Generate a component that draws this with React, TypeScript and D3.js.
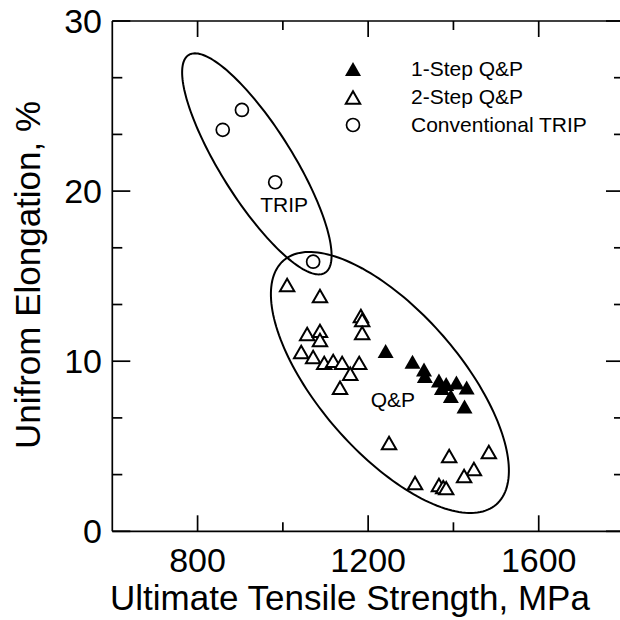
import React, { useEffect, useRef } from 'react'
import * as d3 from 'd3'

// 1-Step Q&P (filled triangles)
const oneStepUTS = [1241, 1304, 1331, 1333, 1366, 1373, 1383, 1407, 1431, 1394, 1426]
const oneStepUE = [10.6, 9.97, 9.51, 9.13, 8.87, 8.43, 8.66, 8.75, 8.45, 7.95, 7.33]

// 2-Step Q&P (open triangles)
const twoStepUTS = [
  1010, 1087, 1183, 1186, 1186, 1057, 1087, 1087, 1043, 1071, 1097, 1118, 1139,
  1179, 1158, 1134, 1249, 1390, 1483, 1448, 1425, 1310, 1366, 1376, 1383
]
const twoStepUE = [
  14.48, 13.83, 12.66, 12.42, 11.66, 11.6, 11.78, 11.25, 10.54, 10.25, 9.9, 10.02,
  9.9, 9.9, 9.26, 8.44, 5.19, 4.43, 4.66, 3.66, 3.25, 2.84, 2.72, 2.6, 2.54
]

// Conventional TRIP (open circles)
const tripUTS = [904, 859, 982, 1071]
const tripUE = [24.77, 23.6, 20.52, 15.85]

const xMajor = [800, 1200, 1600]
const xMinor = [1000, 1400]
const yMajor = [0, 10, 20, 30]
const yMinor = [3.333, 6.667, 13.333, 16.667, 23.333, 26.667]

const legendLabels = ['1-Step Q&P', '2-Step Q&P', 'Conventional TRIP']

const FONT = '"Liberation Sans", Arial, Helvetica, sans-serif'

const App = () => {
  const ref = useRef<SVGSVGElement | null>(null)

  useEffect(() => {
    const svg = d3.select(ref.current)
    svg.selectAll('*').remove()

    const x = d3.scaleLinear().domain([600, 1800]).range([112.3, 624])
    const y = d3.scaleLinear().domain([0, 30]).range([531.3, 21])
    const [x0, x1] = x.range()
    const [y0, y1] = y.range()

    // frame
    const frame = svg.append('g').attr('stroke', '#000').attr('stroke-width', 1.7)
    frame.append('line').attr('x1', x0).attr('x2', x0).attr('y1', y0).attr('y2', y1)
    frame.append('line').attr('x1', x0).attr('x2', x1).attr('y1', y0).attr('y2', y0)
    frame.append('line').attr('x1', x0).attr('x2', x1).attr('y1', y1).attr('y2', y1)
    frame.append('line').attr('x1', x1).attr('x2', x1).attr('y1', y0).attr('y2', y1)

    // x ticks (inward, bottom and top)
    const xt = (vals: number[], len: number) => {
      vals.forEach((v) => {
        frame.append('line').attr('x1', x(v)).attr('x2', x(v)).attr('y1', y0).attr('y2', y0 - len)
        frame.append('line').attr('x1', x(v)).attr('x2', x(v)).attr('y1', y1).attr('y2', y1 + len)
      })
    }
    xt(xMajor, 16)
    xt(xMinor, 9)
    // y ticks (inward, left and right)
    const yt = (vals: number[], len: number) => {
      vals.forEach((v) => {
        frame.append('line').attr('x1', x0).attr('x2', x0 + len).attr('y1', y(v)).attr('y2', y(v))
        frame.append('line').attr('x1', x1).attr('x2', x1 - len).attr('y1', y(v)).attr('y2', y(v))
      })
    }
    yt(yMajor, 18)
    yt(yMinor, 10)

    // tick labels
    svg
      .append('g')
      .selectAll('text')
      .data(xMajor)
      .enter()
      .append('text')
      .attr('x', (d) => x(d))
      .attr('y', 571.5)
      .attr('text-anchor', 'middle')
      .style('font-family', FONT)
      .style('font-size', '34px')
      .text((d) => d)
    svg
      .append('g')
      .selectAll('text')
      .data(yMajor)
      .enter()
      .append('text')
      .attr('x', 102)
      .attr('y', (d) => y(d) + 12)
      .attr('text-anchor', 'end')
      .style('font-family', FONT)
      .style('font-size', '34px')
      .text((d) => d)

    // axis titles
    svg
      .append('text')
      .attr('x', 350)
      .attr('y', 610)
      .attr('text-anchor', 'middle')
      .style('font-family', FONT)
      .style('font-size', '35px')
      .text('Ultimate Tensile Strength, MPa')
    svg
      .append('text')
      .attr('transform', 'translate(40,275) rotate(-90)')
      .attr('text-anchor', 'middle')
      .style('font-family', FONT)
      .style('font-size', '35px')
      .text('Unifrom Elongation, %')

    // ellipses in data units: centre + two conjugate semi-axes
    const ellipse = (cx: number, cy: number, ax: number, ay: number, bx: number, by: number) => {
      const pts = d3.range(0, 2 * Math.PI, Math.PI / 90).map((t) => [
        x(cx + ax * Math.cos(t) + bx * Math.sin(t)),
        y(cy + ay * Math.cos(t) + by * Math.sin(t))
      ])
      return d3.line().curve(d3.curveLinearClosed)(pts as [number, number][])
    }
    svg
      .append('path')
      .attr('d', ellipse(939, 21.6, 160, -6.4, 71.5, 1.13))
      .attr('fill', 'none')
      .attr('stroke', '#000')
      .attr('stroke-width', 2)
    svg
      .append('path')
      .attr('d', ellipse(1251, 8.75, 249.5, -7.17, 125, 2.73))
      .attr('fill', 'none')
      .attr('stroke', '#000')
      .attr('stroke-width', 2)

    // region labels
    svg
      .append('text')
      .attr('x', x(1003))
      .attr('y', y(18.75))
      .attr('text-anchor', 'middle')
      .style('font-family', FONT)
      .style('font-size', '21px')
      .text('TRIP')
    svg
      .append('text')
      .attr('x', x(1258))
      .attr('y', y(7.33))
      .attr('text-anchor', 'middle')
      .style('font-family', FONT)
      .style('font-size', '21px')
      .text('Q&P')

    const tri = 'M0,-6.2L7.2,6.2L-7.2,6.2Z'
    const triFilled = 'M0,-7L8,7L-8,7Z'

    // 2-step open triangles
    svg
      .append('g')
      .selectAll('path')
      .data(twoStepUTS.map((d, i) => [d, twoStepUE[i]]))
      .enter()
      .append('path')
      .attr('d', tri)
      .attr('transform', (d) => `translate(${x(d[0])},${y(d[1])})`)
      .attr('fill', '#fff')
      .attr('stroke', '#000')
      .attr('stroke-width', 2)

    // 1-step filled triangles
    svg
      .append('g')
      .selectAll('path')
      .data(oneStepUTS.map((d, i) => [d, oneStepUE[i]]))
      .enter()
      .append('path')
      .attr('d', triFilled)
      .attr('transform', (d) => `translate(${x(d[0])},${y(d[1])})`)
      .attr('fill', '#000')

    // TRIP circles
    svg
      .append('g')
      .selectAll('circle')
      .data(tripUTS.map((d, i) => [d, tripUE[i]]))
      .enter()
      .append('circle')
      .attr('cx', (d) => x(d[0]))
      .attr('cy', (d) => y(d[1]))
      .attr('r', 6.5)
      .attr('fill', '#fff')
      .attr('stroke', '#000')
      .attr('stroke-width', 1.7)

    // legend
    const lg = svg.append('g')
    lg.append('path').attr('d', triFilled).attr('transform', 'translate(353,69)').attr('fill', '#000')
    lg.append('path')
      .attr('d', tri)
      .attr('transform', 'translate(353,97.5)')
      .attr('fill', '#fff')
      .attr('stroke', '#000')
      .attr('stroke-width', 2)
    lg.append('circle')
      .attr('cx', 353)
      .attr('cy', 125)
      .attr('r', 6.5)
      .attr('fill', '#fff')
      .attr('stroke', '#000')
      .attr('stroke-width', 1.7)
    lg.selectAll('text')
      .data(legendLabels)
      .enter()
      .append('text')
      .attr('x', 411)
      .attr('y', (d, i) => 76 + i * 28.2)
      .style('font-family', FONT)
      .style('font-size', '21px')
      .text((d) => d)
  }, [])

  return (
    <svg
      ref={ref}
      width={620}
      height={620}
      style={{ position: 'absolute', left: 0, top: 0, background: '#fff' }}
    />
  )
}

export default App
